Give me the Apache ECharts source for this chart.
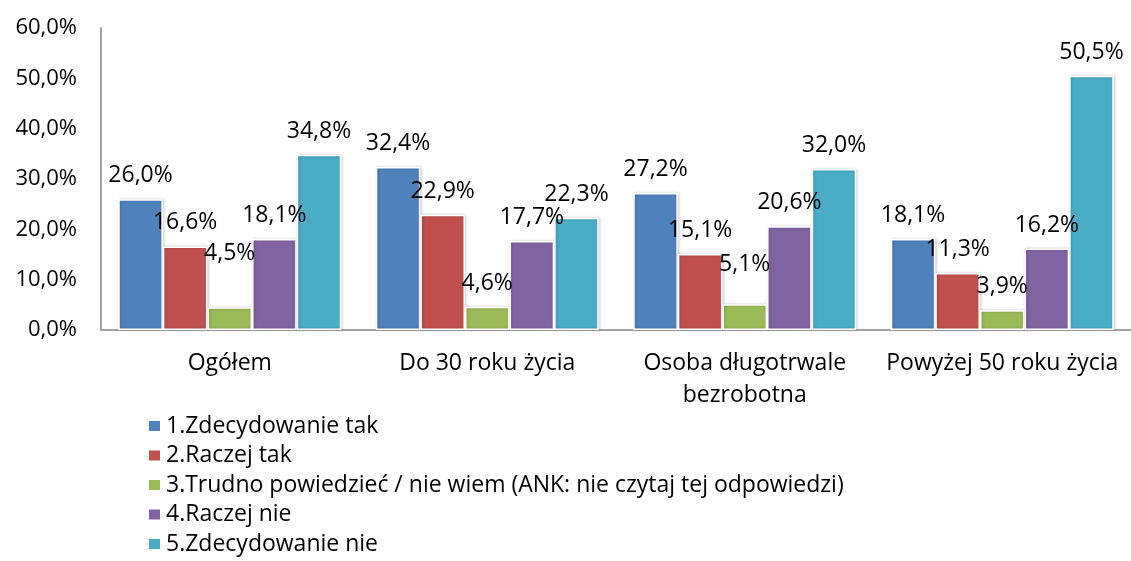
<!DOCTYPE html>
<html>
<head>
<meta charset="utf-8">
<title>Ocena według grup</title>
<script src="https://cdn.jsdelivr.net/npm/echarts@6/dist/echarts.min.js"></script>
<style>
  html, body { margin: 0; padding: 0; background: #fff; }
  #chart { width: 1131px; height: 561px; }
</style>
</head>
<body>
<div id="chart"></div>
<script>
// Categories along the x axis
const categories = ['Ogółem', 'Do 30 roku życia', 'Osoba długotrwale\nbezrobotna', 'Powyżej 50 roku życia'];

// Answer options (legend)
const seriesNames = [
  '1.Zdecydowanie tak',
  '2.Raczej tak',
  '3.Trudno powiedzieć / nie wiem (ANK: nie czytaj tej odpowiedzi)',
  '4.Raczej nie',
  '5.Zdecydowanie nie'
];

// Percentages per answer, one value per category
const zdecydowanieTak = [26.0, 32.4, 27.2, 18.1];
const raczejTak       = [16.6, 22.9, 15.1, 11.3];
const trudno          = [4.5, 4.6, 5.1, 3.9];
const raczejNie       = [18.1, 17.7, 20.6, 16.2];
const zdecydowanieNie = [34.8, 22.3, 32.0, 50.5];

// Y axis ticks (percent)
const yTicks = [0, 10, 20, 30, 40, 50, 60];

const seriesValues = [zdecydowanieTak, raczejTak, trudno, raczejNie, zdecydowanieNie];
const colors = ['#4F81BD', '#C0504D', '#9BBB59', '#8064A2', '#4BACC6'];

// A couple of labels sit higher to stay clear of neighbouring labels
const labelLift = { '2-0': -30, '2-2': -16 };

const FONT = '"Open Sans", "Noto Sans", sans-serif';
const fmt = v => v.toFixed(1).replace('.', ',') + '%';

const series = seriesNames.map((name, s) => ({
  name,
  type: 'bar',
  barGap: '0%',
  barCategoryGap: '13.4%',
  itemStyle: {
    color: colors[s],
    borderColor: '#ffffff',
    borderWidth: 1.5,
    shadowColor: 'rgba(0,0,0,0.22)',
    shadowBlur: 3,
    shadowOffsetX: 1,
    shadowOffsetY: 0
  },
  label: {
    show: true,
    position: 'top',
    distance: 12,
    color: '#000',
    fontFamily: FONT,
    fontSize: 23,
    formatter: p => fmt(p.value)
  },
  data: seriesValues[s].map((v, c) => {
    const lift = labelLift[s + '-' + c];
    return lift ? { value: v, label: { offset: [0, lift] } } : v;
  })
}));

const chart = echarts.init(document.getElementById('chart'), null, { renderer: 'canvas' });
chart.setOption({
  animation: false,
  backgroundColor: '#ffffff',
  grid: { left: 101, right: 0, top: 28, bottom: 231, containLabel: false },
  legend: {
    orient: 'vertical',
    left: 142,
    top: 409,
    itemWidth: 13,
    itemHeight: 12,
    itemGap: 5.5,
    icon: 'rect',
    textStyle: { color: '#000', fontFamily: FONT, fontSize: 23, lineHeight: 24 },
    data: seriesNames
  },
  xAxis: {
    type: 'category',
    data: categories,
    axisLine: { lineStyle: { color: '#868686', width: 1.5 } },
    axisTick: { show: false },
    axisLabel: {
      color: '#000',
      fontFamily: FONT,
      fontSize: 23,
      lineHeight: 32,
      margin: 17,
      interval: 0
    }
  },
  yAxis: {
    type: 'value',
    min: yTicks[0],
    max: yTicks[yTicks.length - 1],
    interval: yTicks[1] - yTicks[0],
    splitLine: { show: false },
    axisLine: { show: true, lineStyle: { color: '#868686', width: 1.5 } },
    axisTick: { show: false },
    axisLabel: {
      color: '#000',
      fontFamily: FONT,
      fontSize: 22,
      margin: 24,
      formatter: v => fmt(v)
    }
  },
  series
});
</script>
</body>
</html>
